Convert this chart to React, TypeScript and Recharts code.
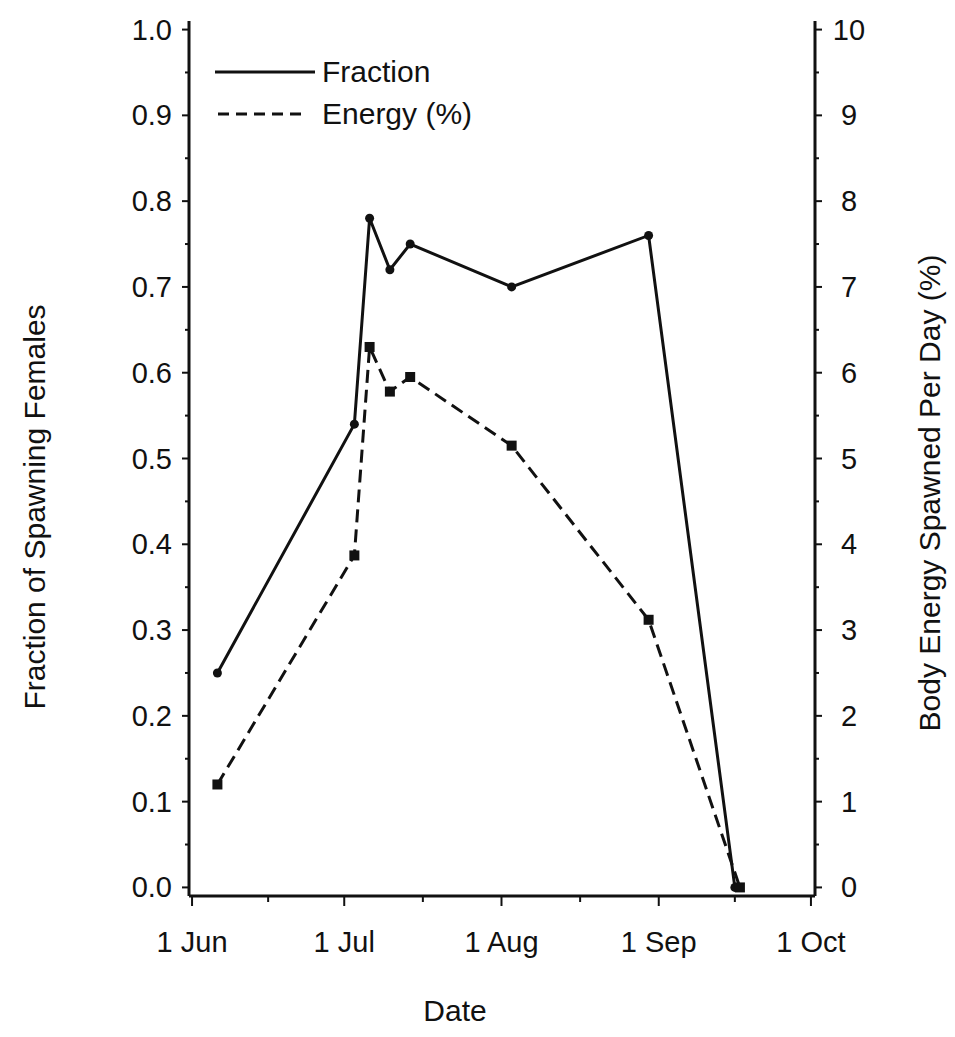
import React from "react";
import { LineChart, Line, XAxis, YAxis, Legend } from "recharts";

// days counted from 1 Jun
const monthTicks = [0, 30, 61, 92, 122];
const monthLabels = ["1 Jun", "1 Jul", "1 Aug", "1 Sep", "1 Oct"];
const midMonthTicks = [15, 45.5, 76.5, 107];

const fractionDays = [5, 32, 35, 39, 43, 63, 90, 107];
const fractionValues = [0.25, 0.54, 0.78, 0.72, 0.75, 0.7, 0.76, 0.0];

const energyDays = [5, 32, 35, 39, 43, 63, 90, 108];
const energyValues = [1.2, 3.87, 6.3, 5.78, 5.95, 5.15, 3.12, 0.0];

const leftTicks = [0, 0.05, 0.1, 0.15, 0.2, 0.25, 0.3, 0.35, 0.4, 0.45, 0.5, 0.55, 0.6, 0.65, 0.7, 0.75, 0.8, 0.85, 0.9, 0.95, 1.0];
const rightTicks = [0, 0.5, 1, 1.5, 2, 2.5, 3, 3.5, 4, 4.5, 5, 5.5, 6, 6.5, 7, 7.5, 8, 8.5, 9, 9.5, 10];

const fractionData = fractionDays.map((d, i) => ({ day: d, fraction: fractionValues[i] }));
const energyData = energyDays.map((d, i) => ({ day: d, energy: energyValues[i] }));

const FONT = "'Liberation Sans', Arial, Helvetica, sans-serif";
const INK = "#111";

const isWhole = (v: number, step: number) => Math.abs(v / step - Math.round(v / step)) < 1e-6;

const LeftTick = (props: any) => {
    const { x, y, payload } = props;
    const major = isWhole(payload.value, 0.1);
    return (
        <g>
            <line x1={x - (major ? 7 : 4)} y1={y} x2={x} y2={y} stroke={INK} strokeWidth={2} />
            {major && (
                <text x={x - 17} y={y} textAnchor="end" dominantBaseline="central" fontSize={29} fontFamily={FONT} fill={INK}>
                    {payload.value.toFixed(1)}
                </text>
            )}
        </g>
    );
};

const RightTick = (props: any) => {
    const { x, y, payload } = props;
    const major = isWhole(payload.value, 1);
    return (
        <g>
            <line x1={x} y1={y} x2={x + (major ? 7 : 4)} y2={y} stroke={INK} strokeWidth={2} />
            {major && (
                <text x={x + 34} y={y} textAnchor="middle" dominantBaseline="central" fontSize={29} fontFamily={FONT} fill={INK}>
                    {payload.value}
                </text>
            )}
        </g>
    );
};

const BottomTick = (props: any) => {
    const { x, y, payload } = props;
    const idx = monthTicks.indexOf(payload.value);
    const major = idx >= 0;
    return (
        <g>
            <line x1={x} y1={y} x2={x} y2={y + (major ? 10 : 6)} stroke={INK} strokeWidth={2} />
            {major && (
                <text x={x} y={y + 46} textAnchor="middle" dominantBaseline="central" fontSize={29} fontFamily={FONT} fill={INK}>
                    {monthLabels[idx]}
                </text>
            )}
        </g>
    );
};

const AxisTitle = ({ tx, ty, rot, text }: any) => (
    <text
        x={tx}
        y={ty}
        transform={`rotate(${rot} ${tx} ${ty})`}
        textAnchor="middle"
        dominantBaseline="central"
        fontSize={30}
        fontFamily={FONT}
        fill={INK}
    >
        {text}
    </text>
);

const SquareDot = (props: any) => {
    const { cx, cy, index } = props;
    return <rect key={`sq-${index}`} x={cx - 5} y={cy - 5} width={10} height={10} fill={INK} />;
};

const RoundDot = (props: any) => {
    const { cx, cy, index } = props;
    return <circle key={`rd-${index}`} cx={cx} cy={cy} r={4.5} fill={INK} />;
};

const LegendBox = () => (
    <div style={{ fontFamily: FONT, fontSize: 30, color: INK }}>
        <div style={{ display: "flex", alignItems: "center", height: 42 }}>
            <svg width={110} height={20}>
                <line x1={3} y1={10} x2={103} y2={10} stroke={INK} strokeWidth={3} />
            </svg>
            <span>Fraction</span>
        </div>
        <div style={{ display: "flex", alignItems: "center", height: 42 }}>
            <svg width={110} height={20}>
                <line x1={6} y1={10} x2={96} y2={10} stroke={INK} strokeWidth={3} strokeDasharray="11 7" />
            </svg>
            <span>Energy (%)</span>
        </div>
    </div>
);

export default function App() {
    return (
        <div style={{ position: "absolute", left: 0, top: 0, width: 955, height: 1037, background: "#fff" }}>
            <LineChart width={955} height={1037} margin={{ top: 21, right: 80, bottom: 81, left: 129 }}>
                <XAxis
                    xAxisId="x"
                    type="number"
                    dataKey="day"
                    domain={[-0.6, 122.8]}
                    ticks={[...monthTicks, ...midMonthTicks].sort((a, b) => a - b)}
                    tick={<BottomTick />}
                    tickLine={false}
                    tickSize={0}
                    tickMargin={0}
                    height={60}
                    axisLine={{ stroke: INK, strokeWidth: 3 }}
                    allowDataOverflow
                    label={<AxisTitle tx={455} ty={1010} rot={0} text="Date" />}
                />
                <YAxis
                    yAxisId="left"
                    orientation="left"
                    type="number"
                    domain={[-0.01, 1.01]}
                    ticks={leftTicks}
                    tick={<LeftTick />}
                    tickLine={false}
                    tickSize={0}
                    tickMargin={0}
                    width={60}
                    interval={0}
                    axisLine={{ stroke: INK, strokeWidth: 3 }}
                    allowDataOverflow
                    label={<AxisTitle tx={34} ty={507} rot={-90} text="Fraction of Spawning Females" />}
                />
                <YAxis
                    yAxisId="right"
                    orientation="right"
                    type="number"
                    domain={[-0.1, 10.1]}
                    ticks={rightTicks}
                    tick={<RightTick />}
                    tickLine={false}
                    tickSize={0}
                    tickMargin={0}
                    width={60}
                    interval={0}
                    axisLine={{ stroke: INK, strokeWidth: 3 }}
                    allowDataOverflow
                    label={<AxisTitle tx={929} ty={493} rot={-90} text="Body Energy Spawned Per Day (%)" />}
                />
                <Line
                    xAxisId="x"
                    yAxisId="left"
                    data={fractionData}
                    dataKey="fraction"
                    type="linear"
                    stroke={INK}
                    strokeWidth={3}
                    dot={<RoundDot />}
                    activeDot={false}
                    isAnimationActive={false}
                />
                <Line
                    xAxisId="x"
                    yAxisId="right"
                    data={energyData}
                    dataKey="energy"
                    type="linear"
                    stroke={INK}
                    strokeWidth={3}
                    strokeDasharray="13 7"
                    dot={<SquareDot />}
                    activeDot={false}
                    isAnimationActive={false}
                />
                <Legend
                    layout="vertical"
                    align="center"
                    verticalAlign="middle"
                    content={<LegendBox />}
                    wrapperStyle={{ position: "absolute", left: 212, top: 51, width: 320, bottom: "auto", right: "auto" }}
                />
            </LineChart>
        </div>
    );
}
